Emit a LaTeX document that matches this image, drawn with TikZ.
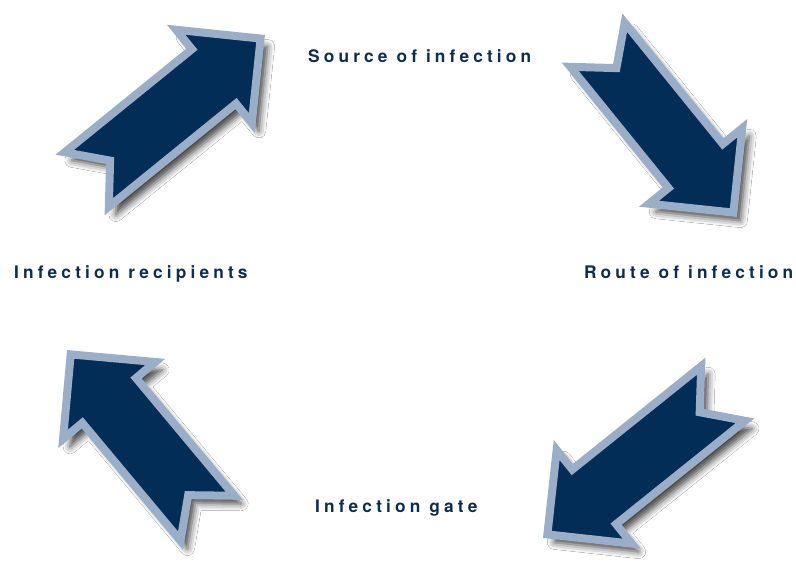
\documentclass[tikz,border=0pt]{standalone}
\usepackage{fontspec}
\setmainfont{TeX Gyre Heros}
\usepackage{xcolor}
\usetikzlibrary{calc,shadows.blur}
\definecolor{navyfill}{HTML}{012D57}
\definecolor{paleedge}{HTML}{9BAEC8}
\definecolor{labelnavy}{HTML}{0D2D50}
\newfontfamily\labelfont[Extension=.otf, UprightFont=*-bold, LetterSpace=24]{texgyreheros}
\tikzset{
  cyclearrow/.style={fill=navyfill, draw=paleedge, line width=8pt, line join=miter,
                     blur shadow={shadow xshift=7pt, shadow yshift=-8pt,
                                  shadow blur radius=7pt, shadow opacity=75}},
  steplabel/.style={anchor=base west, inner sep=0pt, text=labelnavy,
                    font=\labelfont\fontsize{17.3}{20}\selectfont}
}

\begin{document}
\begin{tikzpicture}[x=1pt, y=1pt]
\fill[white] (0,0) rectangle (796,564);
\useasboundingbox (0,0) rectangle (796,564);
\coordinate (t1) at (86.8,384.5);
\coordinate (h1) at (260.6,525.4);
\coordinate (t2) at (597.5,519.2);
\coordinate (h2) at (733.4,351.4);
\coordinate (t3) at (723.1,170.5);
\coordinate (h3) at (547.4,29.6);
\coordinate (t4) at (207.4,45.8);
\coordinate (h4) at (70.7,209.6);
\foreach \t/\h in {t1/h1, t2/h2, t3/h3, t4/h4}{
  \draw[cyclearrow] ($(\t)!35pt!90:(\h)$)
    -- ($(\h)!60pt!(\t)!35pt!-90:(\t)$)
    -- ($(\h)!60pt!(\t)!60pt!-90:(\t)$)
    -- (\h)
    -- ($(\h)!60pt!(\t)!60pt!90:(\t)$)
    -- ($(\h)!60pt!(\t)!35pt!90:(\t)$)
    -- ($(\t)!35pt!-90:(\h)$)
    -- ($(\t)!30pt!(\h)$)
    -- cycle;
}
\node[steplabel] (source) at (308,501) {Source of infection};
\node[steplabel] (route) at (584,285) {Route of infection};
\node[steplabel] (gate) at (315,51) {Infection gate};
\node[steplabel] (recip) at (14,285) {Infection recipients};
\end{tikzpicture}
\end{document}
